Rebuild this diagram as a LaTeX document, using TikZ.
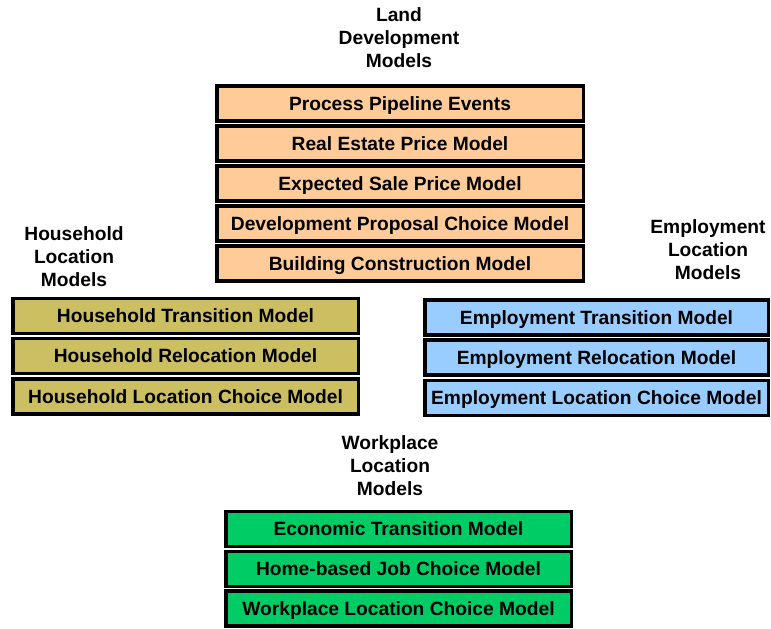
\documentclass[tikz,border=0pt]{standalone}
\usepackage{fontspec}
\setmainfont{Liberation Sans}
\definecolor{landfill}{HTML}{FFCC99}
\definecolor{hhfill}{HTML}{CCBF62}
\definecolor{empfill}{HTML}{99CCFF}
\definecolor{workfill}{HTML}{00CC66}
\tikzset{
  modelbox/.style={draw=black, line width=3.5pt, minimum height=35pt, inner sep=0pt, text height=13.6pt, text depth=0pt, font=\fontsize{19.2}{23}\selectfont\bfseries},
  grouptitle/.style={align=center, inner sep=0pt, font=\fontsize{19.2}{23}\selectfont\bfseries}
}
\begin{document}
\begin{tikzpicture}[x=1pt,y=-1pt]
\useasboundingbox (0,0) rectangle (771,629);

\node [grouptitle] (landtitle) at (399,38) {Land\\Development\\Models};
\node [modelbox, fill=landfill, minimum width=366.5pt] (land1) at (400,103.5) {Process Pipeline Events};
\node [modelbox, fill=landfill, minimum width=366.5pt] (land2) at (400,143.5) {Real Estate Price Model};
\node [modelbox, fill=landfill, minimum width=366.5pt] (land3) at (400,183.5) {Expected Sale Price Model};
\node [modelbox, fill=landfill, minimum width=366.5pt] (land4) at (400,223.5) {Development Proposal Choice Model};
\node [modelbox, fill=landfill, minimum width=366.5pt] (land5) at (400,263.5) {Building Construction Model};

\node [grouptitle] (hhtitle) at (74,257) {Household\\Location\\Models};
\node [modelbox, fill=hhfill, minimum width=345.5pt] (hh1) at (185.5,316) {Household Transition Model};
\node [modelbox, fill=hhfill, minimum width=345.5pt] (hh2) at (185.5,356) {Household Relocation Model};
\node [modelbox, fill=hhfill, minimum width=345.5pt] (hh3) at (185.5,396.5) {Household Location Choice Model};

\node [grouptitle] (emptitle) at (708,250) {Employment\\Location\\Models};
\node [modelbox, fill=empfill, minimum width=343.5pt] (emp1) at (596.5,317.5) {Employment Transition Model};
\node [modelbox, fill=empfill, minimum width=343.5pt] (emp2) at (596.5,357.5) {Employment Relocation Model};
\node [modelbox, fill=empfill, minimum width=343.5pt] (emp3) at (596.5,398) {Employment Location Choice Model};

\node [grouptitle] (worktitle) at (390,466) {Workplace\\Location\\Models};
\node [modelbox, fill=workfill, minimum width=345.5pt] (work1) at (398.5,529) {Economic Transition Model};
\node [modelbox, fill=workfill, minimum width=345.5pt] (work2) at (398.5,569) {Home-based Job Choice Model};
\node [modelbox, fill=workfill, minimum width=345.5pt] (work3) at (398.5,608.5) {Workplace Location Choice Model};

\end{tikzpicture}
\end{document}
